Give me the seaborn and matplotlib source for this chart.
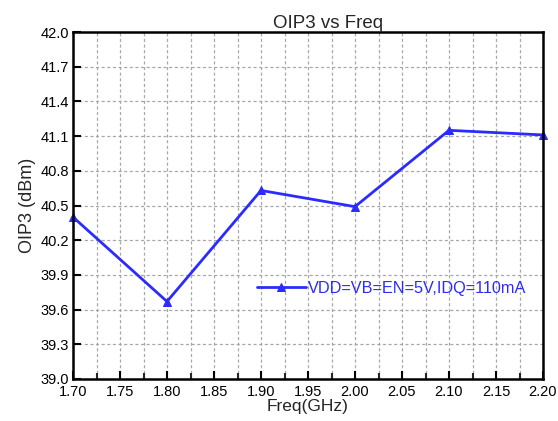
import matplotlib
matplotlib.use("Agg")
import matplotlib.pyplot as plt
import seaborn as sns
import pandas as pd
from matplotlib.ticker import MultipleLocator

freq = [1.70, 1.80, 1.90, 2.00, 2.10, 2.20]
oip3 = [40.40, 39.67, 40.63, 40.49, 41.15, 41.11]
series_label = "VDD=VB=EN=5V,IDQ=110mA"
x_ticks = [1.70, 1.75, 1.80, 1.85, 1.90, 1.95, 2.00, 2.05, 2.10, 2.15, 2.20]
y_ticks = [39.0, 39.3, 39.6, 39.9, 40.2, 40.5, 40.8, 41.1, 41.4, 41.7, 42.0]

sns.set_style("white")
plt.rcParams['font.family'] = ['Liberation Sans', 'DejaVu Sans']

df = pd.DataFrame({"Freq": freq, "OIP3": oip3, "s": series_label})

fig = plt.figure(figsize=(5.58, 4.21), dpi=100)
ax = fig.add_axes([73/558, 1 - 379/421, 470/558, 347/421])

sns.lineplot(data=df, x="Freq", y="OIP3", hue="s", palette=["#2b2bff"],
             marker="^", markersize=6, markeredgecolor="#2b2bff",
             linewidth=2, ax=ax, clip_on=False)

ax.set_xlim(1.70, 2.20)
ax.set_ylim(39.0, 42.0)
ax.set_xticks(x_ticks)
ax.set_xticklabels([f"{v:.2f}" for v in x_ticks])
ax.set_yticks(y_ticks)
ax.set_yticklabels([f"{v:.1f}" for v in y_ticks])
ax.xaxis.set_minor_locator(MultipleLocator(0.025))

ax.grid(False)
ax.grid(True, which="both", axis="x", color="#a8a8a8", linestyle=(0, (2.5, 2)), linewidth=0.9)
ax.grid(True, which="major", axis="y", color="#a8a8a8", linestyle=(0, (2.5, 2)), linewidth=0.9)
ax.set_axisbelow(True)

for sp in ax.spines.values():
    sp.set_linewidth(1.8)
    sp.set_color("black")

ax.tick_params(axis="both", which="major", direction="in", length=6, width=1.5,
               labelsize=10.5, colors="black")
ax.tick_params(axis="x", which="major", pad=4)
ax.tick_params(axis="y", which="major", pad=3)
ax.tick_params(axis="x", which="minor", direction="in", length=4, width=1.5)
ax.tick_params(axis="y", which="major", left=True)
ax.tick_params(axis="x", which="both", bottom=True)

ax.set_title("OIP3 vs Freq", fontsize=13.5, pad=3, x=0.543)
ax.set_xlabel("Freq(GHz)", fontsize=12.5, labelpad=0)
ax.set_ylabel("OIP3 (dBm)", fontsize=13, labelpad=3)

leg = ax.legend(loc="center left", bbox_to_anchor=(0.36, 0.262), frameon=False,
                fontsize=11.7, handlelength=3.0, handletextpad=0.15)
for t in leg.get_texts():
    t.set_color("#2b2bff")

fig.savefig("out.png", dpi=100)
